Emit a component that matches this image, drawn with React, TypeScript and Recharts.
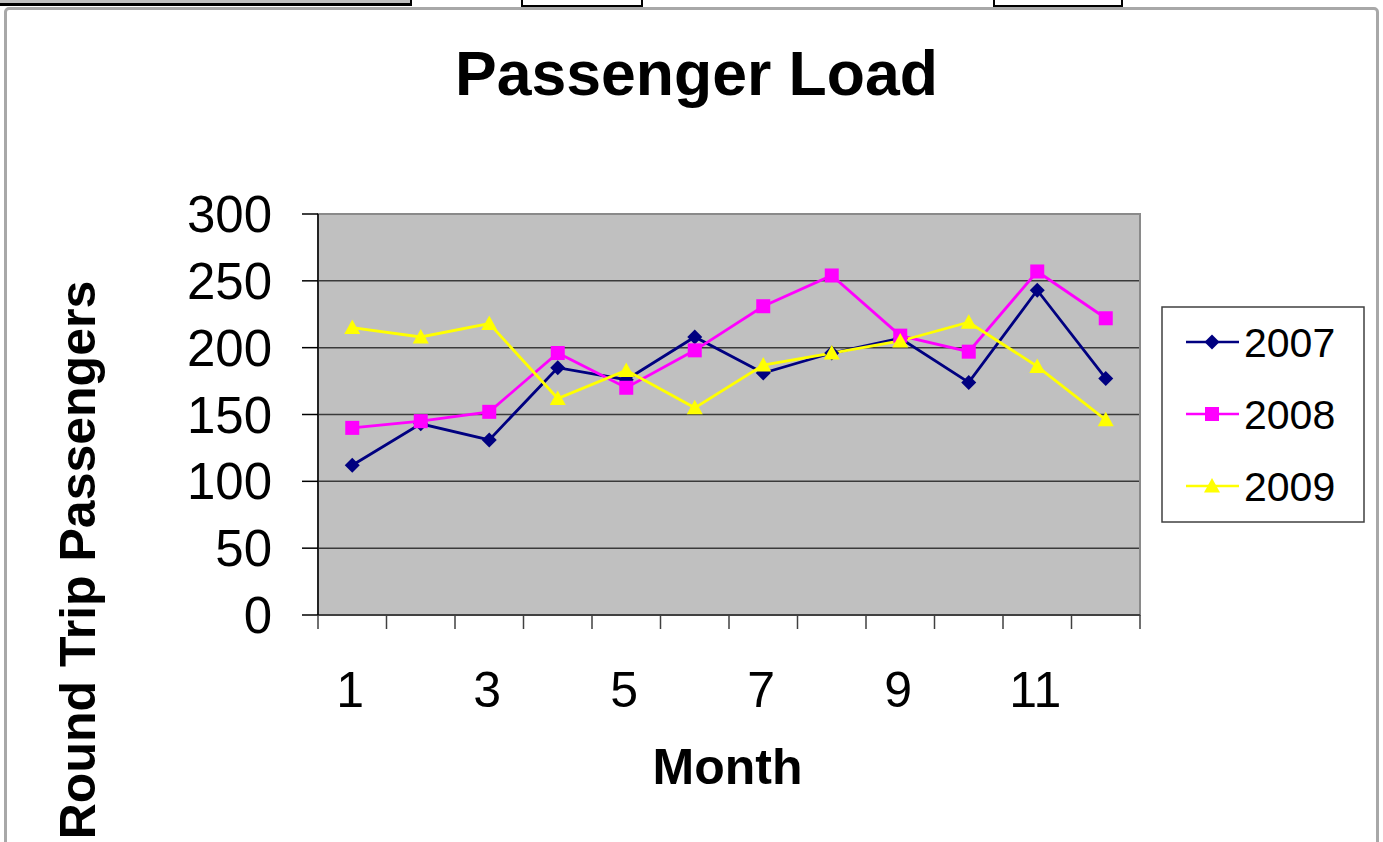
import React from 'react';
import { LineChart, Line, XAxis, YAxis, CartesianGrid, ReferenceArea, Legend } from 'recharts';

const months = [1, 2, 3, 4, 5, 6, 7, 8, 9, 10, 11, 12];
const series2007 = [112, 143, 131, 185, 176, 208, 181, 196, 207, 174, 243, 177];
const series2008 = [140, 145, 152, 196, 170, 198, 231, 254, 209, 197, 257, 222];
const series2009 = [215, 208, 218, 162, 183, 155, 187, 196, 205, 219, 186, 146];
const yTicks = [0, 50, 100, 150, 200, 250, 300];
const monthLabels = [1, 3, 5, 7, 9, 11];
const monthBoundaries = [...months.map((m) => m - 0.5), months[months.length - 1] + 0.5];
const xTicks = [...monthBoundaries, ...monthLabels].sort((a, b) => a - b);

const data = months.map((m, i) => ({
  month: m,
  y2007: series2007[i],
  y2008: series2008[i],
  y2009: series2009[i],
}));

const FONT = '"Liberation Sans", Arial, Helvetica, sans-serif';
const C2007 = '#000080';
const C2008 = '#ff00ff';
const C2009 = '#ffff00';

const Diamond = ({ cx, cy, fill }: any) =>
  cx == null || cy == null ? null : (
    <polygon points={`${cx},${cy - 7.5} ${cx + 7.5},${cy} ${cx},${cy + 7.5} ${cx - 7.5},${cy}`} fill={fill} />
  );
const Square = ({ cx, cy, fill }: any) =>
  cx == null || cy == null ? null : <rect x={cx - 7} y={cy - 7} width={14} height={14} fill={fill} />;
const Triangle = ({ cx, cy, fill }: any) =>
  cx == null || cy == null ? null : (
    <polygon points={`${cx},${cy - 8} ${cx + 8},${cy + 6.5} ${cx - 8},${cy + 6.5}`} fill={fill} />
  );

const markerFor: Record<string, any> = { y2007: Diamond, y2008: Square, y2009: Triangle };

const XTick = (props: any) => {
  const { x, y, payload } = props;
  const v = payload.value;
  if (!Number.isInteger(v)) {
    return <line x1={x} y1={y} x2={x} y2={y + 14} stroke="#404040" strokeWidth={1.5} />;
  }
  return (
    <text x={x - 2} y={y + 92} textAnchor="middle" fontSize={50} fontFamily={FONT} fill="#000">
      {v}
    </text>
  );
};

const LegendBox = (props: any) => {
  const payload = props.payload || [];
  const rows = [343, 415, 487];
  return (
    <svg width={204} height={217} style={{ display: 'block' }}>
      <rect x={1} y={1} width={202} height={215} fill="#fff" stroke="#404040" strokeWidth={1.5} />
      {payload.map((p: any, i: number) => {
        const cy = rows[i] - 307;
        const M = markerFor[p.dataKey];
        return (
          <g key={p.value}>
            <line x1={25} y1={cy} x2={78} y2={cy} stroke={p.color} strokeWidth={2.5} />
            <M cx={51} cy={cy} fill={p.color} />
            <text x={83} y={cy + 15} fontSize={41} fontFamily={FONT} fill="#000">
              {p.value}
            </text>
          </g>
        );
      })}
    </svg>
  );
};

export default function App() {
  return (
    <div style={{ position: 'absolute', left: 0, top: 0, width: 1383, height: 842, overflow: 'hidden', background: '#fff' }}>
      {/* spreadsheet strip above the chart */}
      <div style={{ position: 'absolute', left: 0, top: 0, width: 410, height: 3, background: '#c0c0c0', borderBottom: '3.5px solid #000', borderRight: '2px solid #000' }} />
      <div style={{ position: 'absolute', left: 521, top: -3, width: 118, height: 6, background: '#fff', border: '2px solid #000' }} />
      <div style={{ position: 'absolute', left: 993, top: -3, width: 126, height: 6, background: '#fff', border: '2px solid #000' }} />
      {/* chart frame */}
      <div style={{ position: 'absolute', left: 4, top: 7, width: 1369, height: 900, border: '3px solid #a8a8a8', borderRadius: 5 }} />
      <div style={{ position: 'absolute', left: 0, top: 0 }}>
        <LineChart width={1383} height={842} data={data} margin={{ top: 214, right: 243, bottom: 167, left: 0 }}>
          <CartesianGrid vertical={false} fill="#c0c0c0" fillOpacity={1} stroke="#3a3a3a" strokeWidth={1.5} />
          <ReferenceArea x1={0.5} x2={12.5} y1={0} y2={300} fill="none" stroke="#8a8a8a" strokeWidth={2} />
          <XAxis
            dataKey="month"
            type="number"
            domain={[0.5, 12.5]}
            ticks={xTicks}
            interval={0}
            tickLine={false}
            tickSize={0}
            tickMargin={0}
            height={60}
            axisLine={{ stroke: '#404040', strokeWidth: 2 }}
            tick={<XTick />}
          />
          <YAxis
            domain={[0, 300]}
            ticks={yTicks}
            interval={0}
            width={318}
            tickSize={16}
            tickMargin={30}
            axisLine={{ stroke: '#000', strokeWidth: 1.5 }}
            tickLine={{ stroke: '#000', strokeWidth: 1.5 }}
            tick={{ fontSize: 51, fontFamily: FONT, fill: '#000' }}
          />
          <Line type="linear" dataKey="y2007" name="2007" stroke={C2007} strokeWidth={2.8} isAnimationActive={false}
            dot={(p: any) => <Diamond key={`a${p.index}`} cx={p.cx} cy={p.cy} fill={C2007} />} activeDot={false} />
          <Line type="linear" dataKey="y2008" name="2008" stroke={C2008} strokeWidth={2.8} isAnimationActive={false}
            dot={(p: any) => <Square key={`b${p.index}`} cx={p.cx} cy={p.cy} fill={C2008} />} activeDot={false} />
          <Line type="linear" dataKey="y2009" name="2009" stroke={C2009} strokeWidth={2.8} isAnimationActive={false}
            dot={(p: any) => <Triangle key={`c${p.index}`} cx={p.cx} cy={p.cy} fill={C2009} />} activeDot={false} />
          <Legend
            layout="vertical"
            align="center"
            verticalAlign="middle"
            content={<LegendBox />}
            wrapperStyle={{ position: 'absolute', left: 1161, top: 306, width: 204, height: 217 }}
          />
        </LineChart>
      </div>
      <svg width={1383} height={842} style={{ position: 'absolute', left: 0, top: 0, pointerEvents: 'none' }}>
        <text x={696.5} y={95} textAnchor="middle" fontSize={62.5} fontWeight="bold" fontFamily={FONT} fill="#000">
          Passenger Load
        </text>
        <text x={727.5} y={784} textAnchor="middle" fontSize={50} fontWeight="bold" fontFamily={FONT} fill="#000">
          Month
        </text>
        <text transform="translate(95,560) rotate(-90)" textAnchor="middle" fontSize={50} fontWeight="bold" fontFamily={FONT} fill="#000">
          Round Trip Passengers
        </text>
      </svg>
    </div>
  );
}
